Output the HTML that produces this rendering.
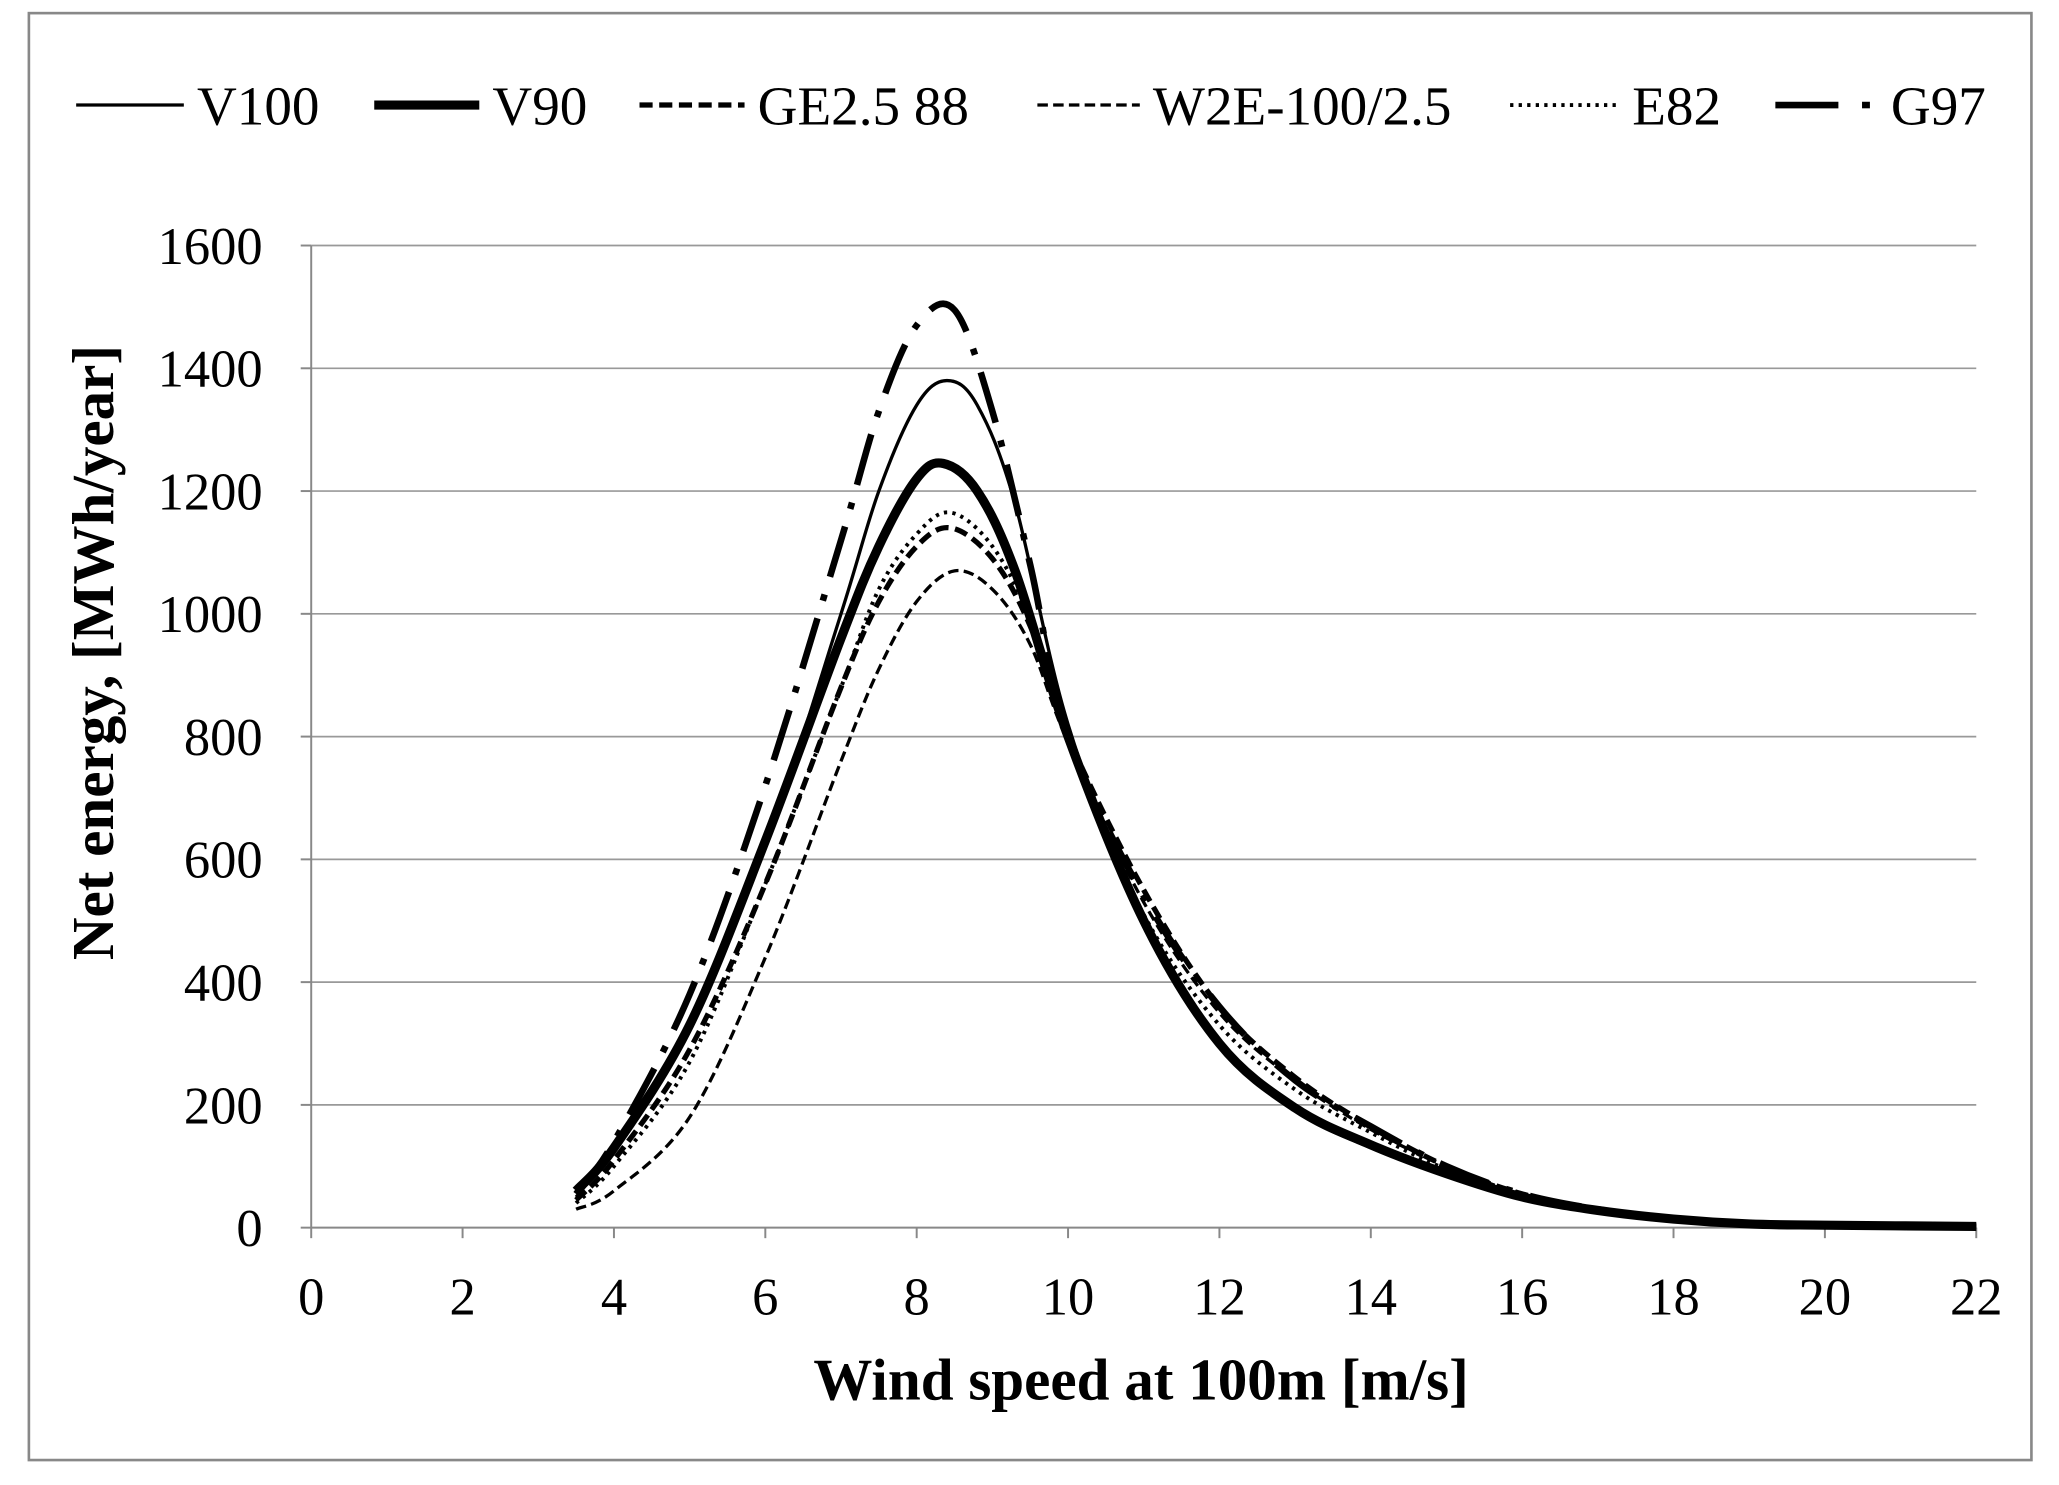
<!DOCTYPE html>
<html><head><meta charset="utf-8"><style>
html,body{margin:0;padding:0;background:#fff;}
svg{display:block;}
text{font-family:"Liberation Serif",serif;fill:#000;}
</style></head><body>
<svg id="s" width="2059" height="1485" viewBox="0 0 1568 1131" preserveAspectRatio="none" xmlns="http://www.w3.org/2000/svg">
<rect x="0" y="0" width="1568" height="1131" fill="#fff"/>
<rect x="22" y="10" width="1525" height="1102" fill="none" stroke="#888" stroke-width="2"/>
<g id="grid" stroke="#999" stroke-width="1.3"></g>
<line x1="237" y1="187" x2="237" y2="935" stroke="#888" stroke-width="1.5"/>
<line x1="237" y1="935" x2="1505" y2="935" stroke="#888" stroke-width="1.5"/>
<g id="ticks" stroke="#888" stroke-width="1.5"></g>
<g id="ylab" font-size="40" text-anchor="end"></g>
<g id="xlab" font-size="40" text-anchor="middle"></g>
<text x="869" y="1066" font-size="45" font-weight="bold" text-anchor="middle">Wind speed at 100m [m/s]</text>
<text transform="translate(86,497) rotate(-90)" font-size="45" font-weight="bold" text-anchor="middle">Net energy,  [MWh/year]</text>
<g id="curves" fill="none" stroke="#000" stroke-linejoin="round"></g>
<g font-size="42">
<line x1="58" y1="80" x2="140" y2="80" stroke="#000" stroke-width="2.5"/><text x="150" y="95">V100</text>
<line x1="285" y1="80" x2="365" y2="80" stroke="#000" stroke-width="7"/><text x="375" y="95">V90</text>
<line x1="487" y1="80" x2="567" y2="80" stroke="#000" stroke-width="4" stroke-dasharray="10 5"/><text x="577" y="95">GE2.5 88</text>
<line x1="790" y1="80" x2="868" y2="80" stroke="#000" stroke-width="2.5" stroke-dasharray="8 4"/><text x="878" y="95">W2E-100/2.5</text>
<line x1="1150" y1="80" x2="1232" y2="80" stroke="#000" stroke-width="3" stroke-dasharray="2.5 4"/><text x="1243" y="95">E82</text>
<line x1="1352" y1="80" x2="1400" y2="80" stroke="#000" stroke-width="5"/><line x1="1418" y1="80" x2="1424" y2="80" stroke="#000" stroke-width="5"/><text x="1440" y="95">G97</text>
</g>
</svg>
<script>
var NS="http://www.w3.org/2000/svg";
function X(v){return 237+v*57.636;}function Y(v){return 935-v*0.4675;}
function el(p,t,a){var e=document.createElementNS(NS,t);for(var k in a)e.setAttribute(k,a[k]);document.getElementById(p).appendChild(e);return e;}
for(var i=1;i<=8;i++){var y=Y(i*200);el("grid","line",{x1:237,y1:y,x2:1505,y2:y});}
for(var i=0;i<=8;i++){var y=Y(i*200);el("ticks","line",{x1:229,y1:y,x2:237,y2:y});el("ylab","text",{x:200,y:y+14}).textContent=i*200;}
for(var i=0;i<=11;i++){var x=X(i*2);el("ticks","line",{x1:x,y1:935,x2:x,y2:943});el("xlab","text",{x:x,y:1001}).textContent=i*2;}
var tail=[[16,50],[17,28],[18,14],[19,6],[20,4],[22,2]];
var tailB=[[16,55],[17,30],[18,15],[19,7],[20,5],[22,3]];
var S=[
 {d:[[3.5,50],[4,130],[5,330],[6,620],[7,1000],[7.5,1200],[8,1340],[8.4,1380],[8.8,1340],[9.3,1180],[10,820],[11,500],[12,300],[13,190],[14,130],[15,85]].concat(tail),w:2.5},
 {d:[[3.5,60],[4,130],[5,330],[6,630],[7,960],[7.5,1110],[8,1220],[8.35,1245],[8.8,1200],[9.3,1070],[10,800],[11,500],[12,300],[13,195],[14,135],[15,88]].concat(tail),w:7},
 {d:[[3.5,45],[4,110],[5,290],[6,560],[7,880],[7.5,1020],[8,1110],[8.45,1140],[9,1090],[9.5,980],[10,800],[11,550],[12,360],[13,245],[14,165],[15,100]].concat(tailB),w:4,da:"10 5"},
 {d:[[3.5,30],[4,60],[5,180],[6,440],[7,760],[7.5,910],[8,1020],[8.5,1070],[9,1040],[9.5,950],[10,790],[11,530],[12,350],[13,240],[14,160],[15,100]].concat(tailB),w:2.5,da:"8 4"},
 {d:[[3.5,40],[4,100],[5,270],[6,560],[7,880],[7.5,1040],[8,1130],[8.45,1165],[9,1110],[9.5,990],[10,790],[11,510],[12,330],[13,225],[14,155],[15,95]].concat(tailB),w:3,da:"2.5 4"},
 {d:[[3.5,55],[4,140],[5,380],[6,720],[7,1120],[7.5,1330],[8,1470],[8.5,1495],[9,1330],[9.5,1080],[10,800],[11,540],[12,360],[13,240],[14,165],[15,100]].concat(tailB),w:5,da:"40 14 5 14"}
];
S.forEach(function(s){
 var p=s.d.map(function(q){return [X(q[0]),Y(q[1])];});
 var d="M"+p[0][0]+","+p[0][1];
 for(var i=0;i<p.length-1;i++){
  var p0=p[i-1]||p[i],p1=p[i],p2=p[i+1],p3=p[i+2]||p2;
  var c1=[p1[0]+(p2[0]-p0[0])/6,p1[1]+(p2[1]-p0[1])/6],c2=[p2[0]-(p3[0]-p1[0])/6,p2[1]-(p3[1]-p1[1])/6];
  d+=" C"+c1+" "+c2+" "+p2;
 }
 var a={d:d,"stroke-width":s.w};if(s.da)a["stroke-dasharray"]=s.da;
 el("curves","path",a);
});
</script>
</body></html>
